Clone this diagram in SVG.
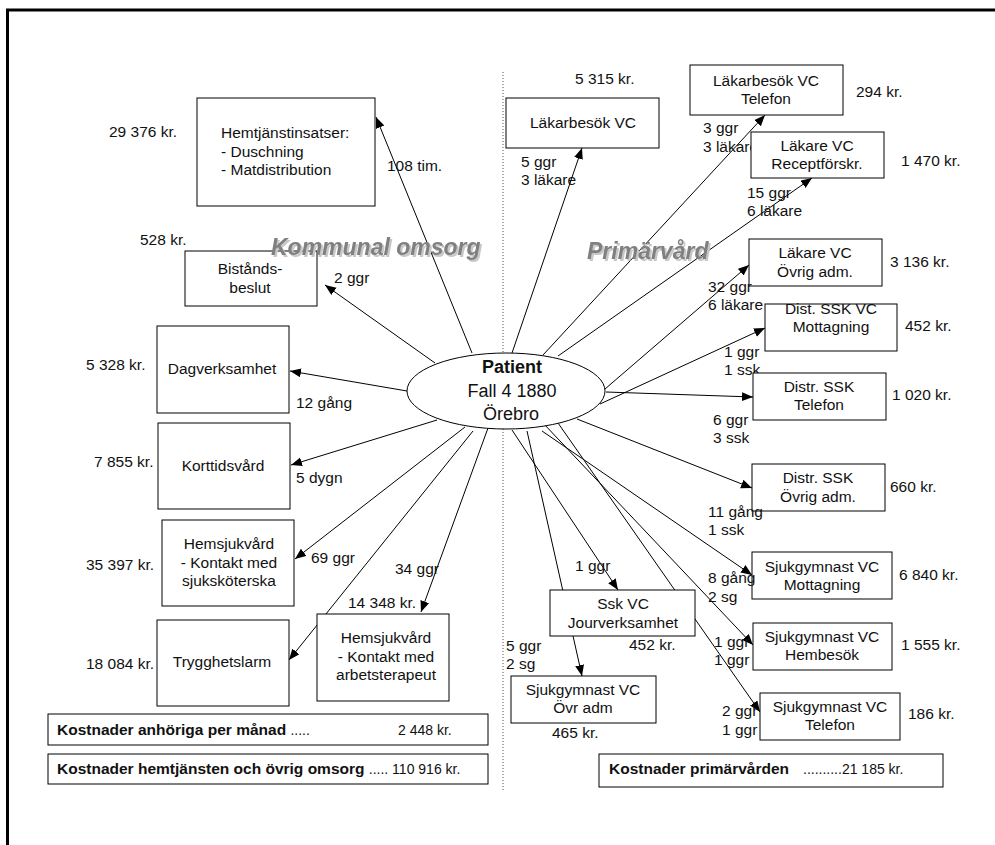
<svg xmlns="http://www.w3.org/2000/svg" width="995" height="845" viewBox="0 0 995 845">
<defs>
<marker id="ah" markerUnits="userSpaceOnUse" markerWidth="12" markerHeight="10" refX="11" refY="4.5" orient="auto">
<path d="M0,0 L11,4.5 L0,9 z" fill="#000"/>
</marker>
<filter id="shadow" x="-5%" y="-20%" width="115%" height="150%">
<feOffset in="SourceAlpha" dx="2" dy="2" result="o"/>
<feFlood flood-color="#c8c8c8"/>
<feComposite in2="o" operator="in" result="s"/>
<feMerge><feMergeNode in="s"/><feMergeNode in="SourceGraphic"/></feMerge>
</filter>
<style>
text{font-family:"Liberation Sans",Arial,sans-serif;font-size:15.5px;fill:#111}
.c{text-anchor:middle}
.b{font-weight:bold}
.s{font-size:14px}
.big{font-size:18px}
.sec{font-size:23px;font-weight:bold;font-style:italic;fill:#808080;filter:url(#shadow)}
.box{fill:#fff;stroke:#000;stroke-width:1}
.con line{stroke:#000;stroke-width:1;marker-end:url(#ah)}
</style>
</defs>
<rect width="995" height="845" fill="#fff"/>
<path d="M7.5,845 V10 H995" fill="none" stroke="#000" stroke-width="3"/>
<line x1="503" y1="72" x2="503" y2="792" stroke="#555" stroke-width="1" stroke-dasharray="1,2"/>

<g id="connectors" class="con">
<line x1="472" y1="353" x2="376" y2="117"/>
<line x1="435" y1="363" x2="325" y2="285"/>
<line x1="407" y1="391" x2="290" y2="371"/>
<line x1="437" y1="420" x2="291" y2="465"/>
<line x1="465" y1="427" x2="295" y2="559"/>
<line x1="473" y1="431" x2="289" y2="660"/>
<line x1="488" y1="428" x2="421" y2="612"/>
<line x1="512" y1="353" x2="582" y2="148"/>
<line x1="543" y1="355" x2="765" y2="115"/>
<line x1="558" y1="356" x2="812" y2="178"/>
<line x1="605" y1="389" x2="749" y2="265"/>
<line x1="600" y1="404" x2="765" y2="328"/>
<line x1="606" y1="392" x2="753" y2="397"/>
<line x1="577" y1="419" x2="752" y2="488"/>
<line x1="542" y1="431" x2="752" y2="575"/>
<line x1="512" y1="430" x2="618" y2="590"/>
<line x1="527" y1="431" x2="582" y2="676"/>
<line x1="543" y1="423" x2="753" y2="645"/>
<line x1="558" y1="423" x2="760" y2="712"/>
</g>

<g id="patient">
<ellipse cx="506" cy="391" rx="99" ry="38" fill="#fff" stroke="#000" stroke-width="1"/>
<text class="c b big" x="512" y="373">Patient</text>
<text class="c big" x="512" y="397">Fall 4 1880</text>
<text class="c big" x="511" y="420">Örebro</text>
</g>

<g id="hemtjanst">
<rect class="box" x="197" y="98" width="178" height="108"/>
<text x="221" y="138">Hemtjänstinsatser:</text>
<text x="221" y="157">- Duschning</text>
<text x="221" y="175">- Matdistribution</text>
<text x="109" y="137">29 376 kr.</text>
<text x="387" y="171">108 tim.</text>
</g>

<g id="bistand">
<rect class="box" x="185" y="251" width="132" height="55"/>
<text class="c" x="250" y="274">Bistånds-</text>
<text class="c" x="250" y="293">beslut</text>
<text x="140" y="245">528 kr.</text>
<text x="334" y="283">2 ggr</text>
</g>

<g id="dagverksamhet">
<rect class="box" x="157" y="326" width="132" height="87"/>
<text class="c" x="222" y="374">Dagverksamhet</text>
<text x="86" y="370">5 328 kr.</text>
<text x="296" y="408">12 gång</text>
</g>

<g id="korttidsvard">
<rect class="box" x="158" y="423" width="132" height="86"/>
<text class="c" x="223" y="471">Korttidsvård</text>
<text x="94" y="467">7 855 kr.</text>
<text x="296" y="483">5 dygn</text>
</g>

<g id="hemsjukvard-ssk">
<rect class="box" x="162" y="520" width="132" height="86"/>
<text class="c" x="229" y="549">Hemsjukvård</text>
<text class="c" x="229" y="568">- Kontakt med</text>
<text class="c" x="229" y="586">sjuksköterska</text>
<text x="86" y="570">35 397 kr.</text>
<text x="311" y="563">69 ggr</text>
</g>

<g id="trygghetslarm">
<rect class="box" x="157" y="620" width="132" height="86"/>
<text class="c" x="222" y="667">Trygghetslarm</text>
<text x="86" y="669">18 084 kr.</text>
</g>

<g id="hemsjukvard-at">
<rect class="box" x="317" y="614" width="132" height="87"/>
<text class="c" x="386" y="643">Hemsjukvård</text>
<text class="c" x="386" y="662">- Kontakt med</text>
<text class="c" x="386" y="680">arbetsterapeut</text>
<text x="348" y="608">14 348 kr.</text>
<text x="395" y="574">34 ggr</text>
</g>

<g id="sum-anhoriga">
<rect class="box" x="48" y="714" width="440" height="31"/>
<text class="b" x="57" y="735">Kostnader anhöriga per månad <tspan font-weight="normal" font-size="14">.....</tspan></text>
<text class="s" x="398" y="735">2 448  kr.</text>
</g>

<g id="sum-hemtjanst">
<rect class="box" x="48" y="754" width="440" height="30"/>
<text class="b" x="57" y="774">Kostnader hemtjänsten och övrig omsorg <tspan font-weight="normal" font-size="14">..... 110 916 kr.</tspan></text>
</g>

<g id="lakarbesok">
<rect class="box" x="506" y="98" width="153" height="50"/>
<text class="c" x="583" y="128">Läkarbesök VC</text>
<text x="575" y="84">5 315 kr.</text>
<text x="521" y="167">5 ggr</text>
<text x="521" y="185">3 läkare</text>
</g>

<g id="lakarbesok-telefon">
<rect class="box" x="690" y="65" width="153" height="50"/>
<text class="c" x="766" y="86">Läkarbesök VC</text>
<text class="c" x="766" y="104">Telefon</text>
<text x="856" y="97">294 kr.</text>
<text x="703" y="133">3 ggr</text>
<text x="703" y="152">3 läkare</text>
</g>

<g id="lakare-recept">
<rect class="box" x="751" y="132" width="133" height="46"/>
<text class="c" x="817" y="151">Läkare VC</text>
<text class="c" x="817" y="169">Receptförskr.</text>
<text x="901" y="166">1 470 kr.</text>
<text x="747" y="198">15 ggr</text>
<text x="747" y="216">6 läkare</text>
</g>

<g id="lakare-ovrig">
<rect class="box" x="749" y="239" width="133" height="47"/>
<text class="c" x="815" y="258">Läkare VC</text>
<text class="c" x="815" y="277">Övrig adm.</text>
<text x="890" y="267">3 136 kr.</text>
<text x="708" y="292">32 ggr</text>
<text x="708" y="310">6 läkare</text>
</g>

<g id="dist-mottagning">
<rect class="box" x="765" y="304" width="132" height="47"/>
<text class="c" x="831" y="314">Dist. SSK VC</text>
<text class="c" x="831" y="332">Mottagning</text>
<text x="905" y="331">452 kr.</text>
<text x="724" y="357">1 ggr</text>
<text x="724" y="375">1 ssk</text>
</g>

<g id="distr-telefon">
<rect class="box" x="753" y="373" width="133" height="47"/>
<text class="c" x="819" y="392">Distr. SSK</text>
<text class="c" x="819" y="410">Telefon</text>
<text x="892" y="400">1 020 kr.</text>
<text x="713" y="425">6 ggr</text>
<text x="713" y="443">3 ssk</text>
</g>

<g id="distr-ovrig">
<rect class="box" x="752" y="464" width="133" height="47"/>
<text class="c" x="818" y="483">Distr. SSK</text>
<text class="c" x="818" y="502">Övrig adm.</text>
<text x="890" y="492">660 kr.</text>
<text x="708" y="517">11 gång</text>
<text x="708" y="535">1 ssk</text>
</g>

<g id="sjukgymnast-mottagning">
<rect class="box" x="752" y="552" width="140" height="47"/>
<text class="c" x="822" y="572">Sjukgymnast VC</text>
<text class="c" x="822" y="590">Mottagning</text>
<text x="899" y="580">6 840 kr.</text>
<text x="708" y="583">8 gång</text>
<text x="708" y="602">2 sg</text>
</g>

<g id="ssk-jour">
<rect class="box" x="550" y="590" width="145" height="46"/>
<text class="c" x="623" y="609">Ssk VC</text>
<text class="c" x="623" y="628">Jourverksamhet</text>
<text x="629" y="650">452 kr.</text>
<text x="575" y="571">1 ggr</text>
</g>

<g id="sjukgymnast-ovr">
<rect class="box" x="511" y="676" width="145" height="47"/>
<text class="c" x="583" y="695">Sjukgymnast VC</text>
<text class="c" x="583" y="713">Övr adm</text>
<text x="552" y="738">465 kr.</text>
<text x="506" y="651">5 ggr</text>
<text x="506" y="669">2 sg</text>
</g>

<g id="sjukgymnast-hembesok">
<rect class="box" x="753" y="623" width="139" height="47"/>
<text class="c" x="822" y="642">Sjukgymnast VC</text>
<text class="c" x="822" y="660">Hembesök</text>
<text x="901" y="650">1 555 kr.</text>
<text x="714" y="647">1 ggr</text>
<text x="714" y="665">1 ggr</text>
</g>

<g id="sjukgymnast-telefon">
<rect class="box" x="760" y="693" width="140" height="47"/>
<text class="c" x="830" y="712">Sjukgymnast VC</text>
<text class="c" x="830" y="730">Telefon</text>
<text x="908" y="719">186 kr.</text>
<text x="722" y="716">2 ggr</text>
<text x="722" y="735">1 ggr</text>
</g>

<g id="sum-primarvard">
<rect class="box" x="599" y="754" width="344" height="33"/>
<text class="b" x="609" y="774">Kostnader primärvården</text>
<text class="s" x="803" y="774">..........21 185 kr.</text>
</g>

<g id="section-labels">
<text class="sec" x="271" y="255">Kommunal omsorg</text>
<text class="sec" x="587" y="259">Primärvård</text>
</g>
</svg>
